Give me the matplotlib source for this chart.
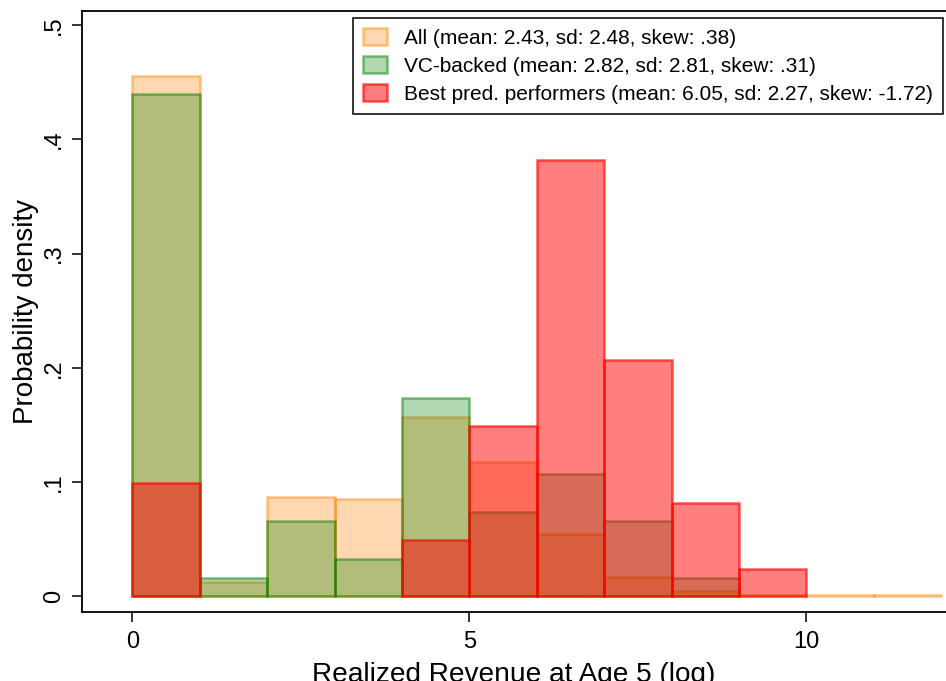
import numpy as np
import matplotlib
matplotlib.use("Agg")
import matplotlib.pyplot as plt

plt.rcParams['font.family'] = ['Liberation Sans', 'DejaVu Sans']

# bin left edges (width 1) and densities
bin_edges = [0, 1, 2, 3, 4, 5, 6, 7, 8, 9, 10, 11]
all_dens = [0.455, 0.013, 0.087, 0.085, 0.157, 0.118, 0.055, 0.017, 0.005, 0.001, 0.001, 0.001]
vc_dens = [0.440, 0.016, 0.066, 0.033, 0.174, 0.074, 0.107, 0.066, 0.016, 0, 0, 0]
best_dens = [0.099, 0, 0, 0, 0.049, 0.149, 0.382, 0.207, 0.082, 0.024, 0, 0]

labels = ["All (mean: 2.43, sd: 2.48, skew: .38)",
          "VC-backed (mean: 2.82, sd: 2.81, skew: .31)",
          "Best pred. performers (mean: 6.05, sd: 2.27, skew: -1.72)"]

yticks = [0, 0.1, 0.2, 0.3, 0.4, 0.5]
ytick_labels = ["0", ".1", ".2", ".3", ".4", ".5"]
xticks = [0, 5, 10]

orange = (1.0, 0.5, 0.0)
green = (0.0, 0.5, 0.0)
red = (1.0, 0.0, 0.0)

fig = plt.figure(figsize=(9.46, 6.81), dpi=100)
ax = fig.add_axes([82/946, 1 - 612/681, 1 - 82/946, (612 - 11)/681])

series = [(all_dens, orange, 0.3, 0.45), (vc_dens, green, 0.3, 0.5), (best_dens, red, 0.5, 0.65)]
for (dens, c, fa, ea), lab in zip(series, labels):
    x = [e for e, d in zip(bin_edges, dens) if d > 0]
    h = [d for d in dens if d > 0]
    ax.bar(x, h, width=1, align='edge', facecolor=c + (fa,), edgecolor=c + (ea,),
           linewidth=1.8, label=lab)

ax.set_xlim(-0.746, 12.07)
ax.set_ylim(-0.0136, 0.5123)
ax.set_xticks(xticks)
ax.set_yticks(yticks)
ax.set_yticklabels(ytick_labels, rotation=90, va='center')
ax.tick_params(axis='both', labelsize=17, length=7, width=1.1, pad=5)
ax.tick_params(axis='x', pad=7)
ax.spines['right'].set_visible(False)
for s in ['left', 'top', 'bottom']:
    ax.spines[s].set_linewidth(1.3)

ax.set_ylabel("Probability density", fontsize=20, labelpad=3)
ax.set_xlabel("Realized Revenue at Age 5 (log)", fontsize=20.2, labelpad=6)

leg = ax.legend(loc='upper right', bbox_to_anchor=(0.9965, 0.9884), borderaxespad=0,
                fontsize=15, frameon=True, fancybox=False, edgecolor='black', framealpha=1,
                handlelength=1.15, handleheight=0.85, labelspacing=0.4, borderpad=0.5,
                handletextpad=0.8)
leg.get_frame().set_linewidth(1.1)

fig.savefig("out.png", dpi=100)
